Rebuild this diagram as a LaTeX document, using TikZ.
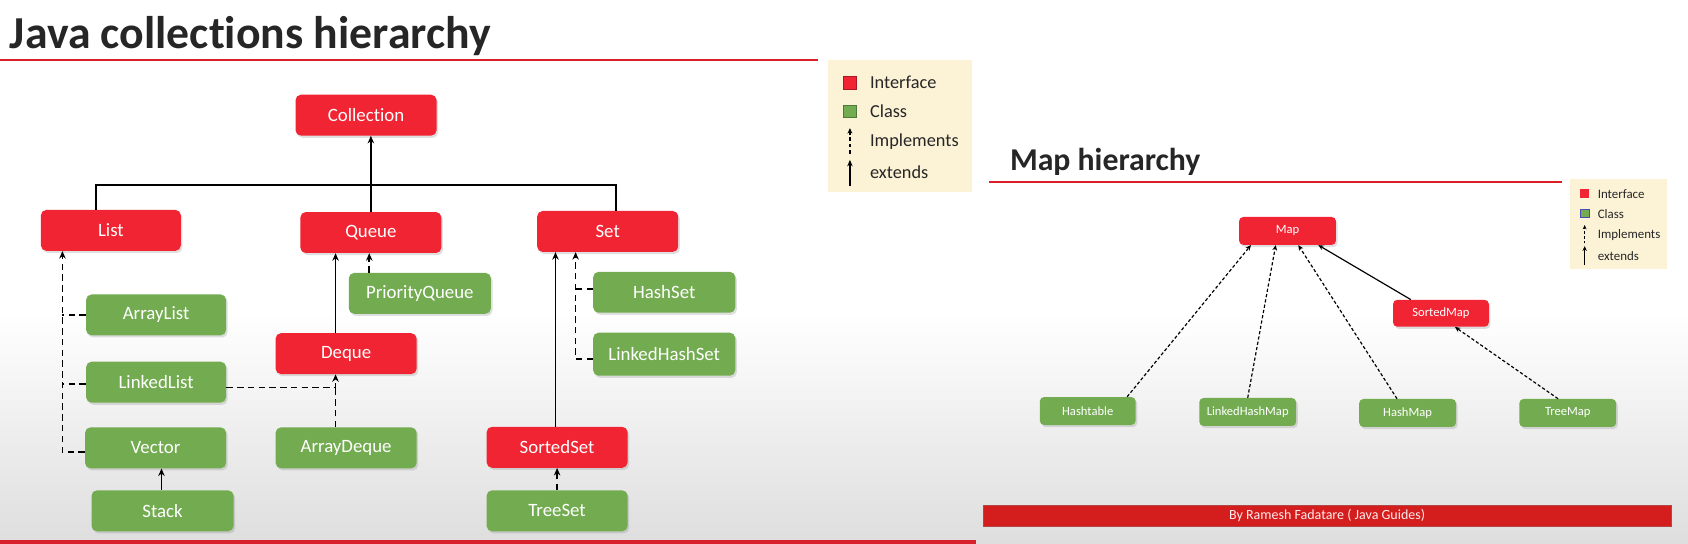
\documentclass[tikz,border=0pt]{standalone}
\usepackage{fontspec}
\setmainfont[Ligatures={NoCommon}]{Carlito}
\usetikzlibrary{arrows.meta,shadows}
\definecolor{ifred}{RGB}{240,36,50}
\definecolor{clsgreen}{RGB}{115,172,80}
\definecolor{legcream}{RGB}{252,242,214}
\definecolor{barred}{RGB}{212,30,30}
\definecolor{linered}{RGB}{220,30,40}
\definecolor{titlegray}{RGB}{38,38,38}
\begin{document}
\begin{tikzpicture}[x=1pt,y=-1pt,
  box/.style={rectangle, rounded corners=5pt, inner sep=0pt, text=white,
    minimum width=131pt, minimum height=38pt, font=\fontsize{17.5}{21}\selectfont,
    drop shadow={shadow xshift=1.5pt,shadow yshift=-2pt,opacity=0.25}},
  iface/.style={box, fill=ifred},
  cls/.style={box, fill=clsgreen},
  mbox/.style={box, minimum width=90pt, minimum height=26pt, rounded corners=4pt,
    font=\fontsize{11.7}{14}\selectfont},
  miface/.style={mbox, fill=ifred},
  mcls/.style={mbox, fill=clsgreen},
  plain/.style={draw=black, line width=1.6pt},
  ext/.style={plain, -{Stealth[length=7pt,width=6pt]}},
  dashline/.style={plain, dash pattern=on 6pt off 4pt},
  impl/.style={dashline, -{Stealth[length=7pt,width=6pt]}},
  mplain/.style={draw=black, line width=1.1pt},
  mext/.style={mplain, -{Stealth[length=5pt,width=4.5pt]}},
  mimpl/.style={mext, dash pattern=on 3pt off 2pt},
  legtext/.style={anchor=west, inner sep=0pt, text=titlegray},
]
\useasboundingbox (0,0) rectangle (1568,505);
% background
\fill[white] (0,0) rectangle (1568,505);
\shade[top color=white, bottom color=black!13] (0,290) rectangle (1568,505);

% ---------- left: Java collections hierarchy ----------
\node[anchor=base west, inner sep=0pt, text=titlegray, font=\bfseries\fontsize{42.5}{48}\selectfont] (title1) at (9,44.9) {Java collections hierarchy};
\coordinate (t1a) at (0,55.7);
\coordinate (t1b) at (760,55.7);
\draw[linered, line width=2.5pt] (t1a) -- (t1b);

\node[iface] (coll) at (340,107) {Collection};
\node[iface, minimum width=130pt] (list) at (103,214) {List};
\node[iface] (queue) at (344.5,216) {Queue};
\node[iface] (set) at (564.5,215) {Set};
\node[cls, minimum width=130pt] (alist) at (145,292.5) {ArrayList};
\node[cls, minimum width=130pt] (llist) at (145,355) {LinkedList};
\node[cls] (vector) at (144.5,416) {Vector};
\node[cls, minimum width=132pt] (stack) at (151,474.5) {Stack};
\node[cls, minimum width=132pt] (pq) at (390,272.5) {PriorityQueue};
\node[iface] (deque) at (321.5,328.5) {Deque};
\node[cls] (adeque) at (321.5,416) {ArrayDeque};
\node[cls, minimum width=132pt] (hset) at (617,271.5) {HashSet};
\node[cls, minimum width=132pt, minimum height=40pt] (lhset) at (617,329) {LinkedHashSet};
\node[iface] (sset) at (517.5,415.5) {SortedSet};
\node[cls] (tset) at (517.5,474.5) {TreeSet};

\coordinate (hl) at (89.5,172);
\coordinate (hr) at (572,172);
\coordinate (lx) at (58,0);
\coordinate (qx) at (311.7,0);
\coordinate (px) at (343,0);
\coordinate (sx) at (150,0);
\coordinate (ssx) at (516,0);
\coordinate (dx) at (534.7,0);

\draw[ext] (queue.north) -- (queue.north |- coll.south);
\draw[plain] (hl |- list.north) -- (hl) -- (hr) -- (hr |- set.north);

\draw[impl] ([yshift=-4pt]vector.west) -| (lx |- list.south);
\draw[dashline] (alist.west) -- (alist.west -| lx);
\draw[dashline] ([yshift=-2pt]llist.west) -- ([yshift=-2pt]llist.west -| lx);

\draw[impl] ([yshift=-5pt]llist.east) -| (qx |- deque.south);
\draw[dashline] (qx |- adeque.north) -- ([yshift=-5pt]llist.east -| qx);
\draw[ext] (qx |- deque.north) -- (qx |- queue.south);
\draw[impl] (px |- pq.north) -- (px |- queue.south);
\draw[ext] (sx |- stack.north) -- (sx |- vector.south);

\draw[ext] (ssx |- sset.north) -- (ssx |- set.south);
\draw[impl] ([yshift=-4.5pt]lhset.west) -| (dx |- set.south);
\draw[dashline] ([yshift=3pt]hset.west) -- ([yshift=3pt]hset.west -| dx);
\draw[impl] (tset.north) -- (sset.south);

% legend 1
\node[fill=legcream, minimum width=134pt, minimum height=122pt, inner sep=0pt, anchor=north west] (leg1) at (769,56) {};
\node[fill=ifred, draw=ifred!70!black, line width=0.4pt, minimum width=12pt, minimum height=12pt, inner sep=0pt] (l1sq1) at (789.5,76.5) {};
\node[fill=clsgreen, draw=clsgreen!70!black, line width=0.4pt, minimum width=12pt, minimum height=11pt, inner sep=0pt] (l1sq2) at (789.5,103) {};
\coordinate (l1ia) at (789.5,143);
\coordinate (l1ib) at (789.5,119);
\coordinate (l1ea) at (789.5,173);
\coordinate (l1eb) at (789.5,148.5);
\draw[draw=black, line width=1.5pt, dash pattern=on 3.5pt off 2.5pt, -{Stealth[length=5pt,width=4.5pt]}] (l1ia) -- (l1ib);
\draw[draw=black, line width=1.6pt, -{Stealth[length=6pt,width=5pt]}] (l1ea) -- (l1eb);
\node[legtext, font=\fontsize{17}{20}\selectfont] (l1t1) at (808,76.8) {Interface};
\node[legtext, font=\fontsize{17}{20}\selectfont] (l1t2) at (808,103.7) {Class};
\node[legtext, font=\fontsize{17}{20}\selectfont] (l1t3) at (808,131.6) {Implements};
\node[legtext, font=\fontsize{17}{20}\selectfont] (l1t4) at (808,160.4) {extends};

% bottom stripe left
\fill[ifred!90!black] (0,501.6) rectangle (907,505);

% ---------- right: Map hierarchy ----------
\node[anchor=base west, inner sep=0pt, text=titlegray, font=\bfseries\fontsize{29.5}{34}\selectfont] (title2) at (938,158) {Map hierarchy};
\coordinate (t2a) at (918.6,168.8);
\coordinate (t2b) at (1451,168.8);
\draw[linered, line width=2pt] (t2a) -- (t2b);

\node[miface] (map) at (1196,214.5) {Map};
\node[miface, minimum width=89pt, minimum height=25pt] (smap) at (1338.5,291) {SortedMap};
\node[mcls, minimum width=89pt] (htable) at (1010.4,381.8) {Hashtable};
\node[mcls] (lhmap) at (1159,382.7) {LinkedHashMap};
\node[mcls] (hmap) at (1307.5,383.6) {HashMap};
\node[mcls] (tmap) at (1456.3,383.6) {TreeMap};

\draw[mimpl] ([xshift=36.6pt]htable.north) -- ([xshift=-34pt]map.south);
\draw[mimpl] (lhmap.north) -- ([xshift=-11pt]map.south);
\draw[mimpl] ([xshift=-9.8pt]hmap.north) -- ([xshift=10pt]map.south);
\draw[mext] ([xshift=-28pt]smap.north) -- ([xshift=28.6pt]map.south);
\draw[mimpl] ([xshift=-9pt]tmap.north) -- ([xshift=13pt]smap.south);

% legend 2
\node[fill=legcream, minimum width=90pt, minimum height=83pt, inner sep=0pt, anchor=north west] (leg2) at (1458.4,166.4) {};
\node[fill=ifred, minimum width=8pt, minimum height=8.5pt, inner sep=0pt] (l2sq1) at (1472,180) {};
\node[fill=clsgreen, draw=blue!40!gray, line width=0.4pt, minimum width=8pt, minimum height=8pt, inner sep=0pt] (l2sq2) at (1472,198) {};
\coordinate (l2ia) at (1472,226);
\coordinate (l2ib) at (1472,209);
\coordinate (l2ea) at (1472,246);
\coordinate (l2eb) at (1472,228.6);
\draw[draw=black, line width=1.1pt, dash pattern=on 2.5pt off 1.8pt, -{Stealth[length=4pt,width=3.5pt]}] (l2ia) -- (l2ib);
\draw[draw=black, line width=1.2pt, -{Stealth[length=4.5pt,width=4pt]}] (l2ea) -- (l2eb);
\node[legtext, font=\fontsize{12}{14}\selectfont] (l2t1) at (1484,180) {Interface};
\node[legtext, font=\fontsize{12}{14}\selectfont] (l2t2) at (1484,199) {Class};
\node[legtext, font=\fontsize{12}{14}\selectfont] (l2t3) at (1484,218.3) {Implements};
\node[legtext, font=\fontsize{12}{14}\selectfont] (l2t4) at (1484,237.8) {extends};

% footer bar
\node[fill=barred, draw=barred!60!gray, line width=0.5pt, minimum width=639pt, minimum height=19.6pt, inner sep=0pt, anchor=north west] (footer) at (913,469) {};
\node[text=white!92!red, font=\fontsize{13}{15}\selectfont] (footertext) at (footer.center) {By Ramesh Fadatare ( Java Guides)};
\end{tikzpicture}
\end{document}
